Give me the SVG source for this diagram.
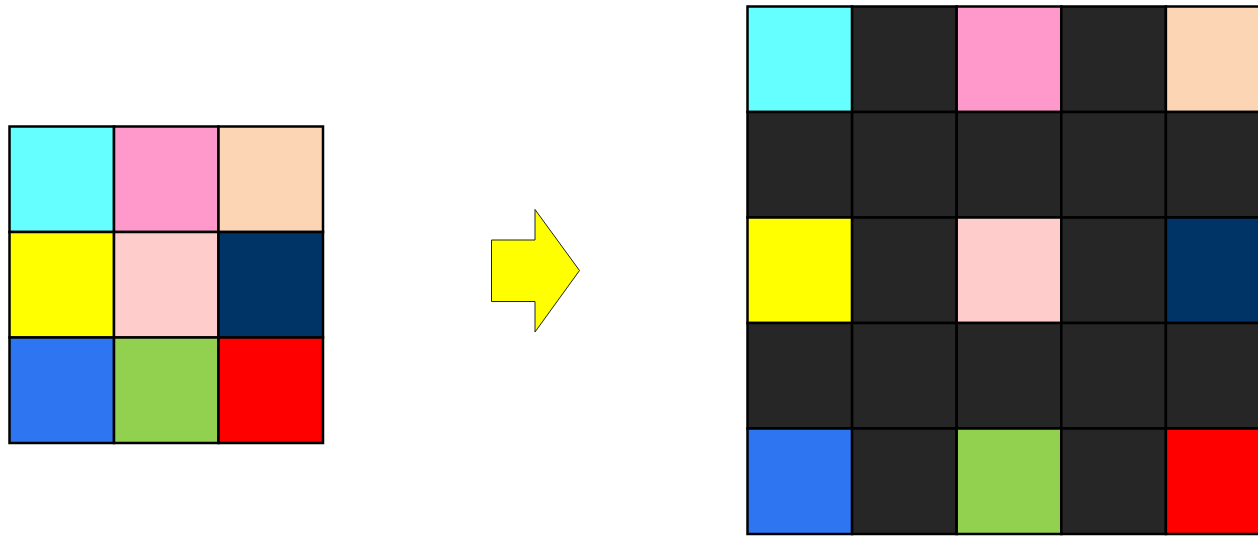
<svg xmlns="http://www.w3.org/2000/svg" width="1258" height="536" viewBox="0 0 1258 536">
<style>
.c{stroke:#000;stroke-width:2.5}
.k{fill:#262626}
.cy{fill:#66FFFF}.pk{fill:#FF99CC}.pe{fill:#FCD5B5}
.ye{fill:#FFFF00}.lp{fill:#FFCCCC}.nv{fill:#003366}
.bl{fill:#2E75F2}.gr{fill:#92D050}.rd{fill:#FF0000}
</style>
<rect width="1258" height="536" fill="#fff"/>
<g id="input-grid">
<rect class="c cy" x="9.5" y="126.5" width="104.5" height="105.5"/>
<rect class="c pk" x="114" y="126.5" width="104.5" height="105.5"/>
<rect class="c pe" x="218.5" y="126.5" width="104.5" height="105.5"/>
<rect class="c ye" x="9.5" y="232" width="104.5" height="105.5"/>
<rect class="c lp" x="114" y="232" width="104.5" height="105.5"/>
<rect class="c nv" x="218.5" y="232" width="104.5" height="105.5"/>
<rect class="c bl" x="9.5" y="337.5" width="104.5" height="105.5"/>
<rect class="c gr" x="114" y="337.5" width="104.5" height="105.5"/>
<rect class="c rd" x="218.5" y="337.5" width="104.5" height="105.5"/>
</g>
<g id="arrow">
<polygon points="491.5,240 535,240 535,209.5 579.5,270.5 535,332 535,301.5 491.5,301.5" fill="#FFFF00" stroke="#222" stroke-width="1"/>
</g>
<g id="output-grid">
<rect class="c cy" x="747.5" y="6.5" width="104.6" height="105.5"/>
<rect class="c k" x="852.1" y="6.5" width="104.6" height="105.5"/>
<rect class="c pk" x="956.7" y="6.5" width="104.6" height="105.5"/>
<rect class="c k" x="1061.3" y="6.5" width="104.6" height="105.5"/>
<rect class="c pe" x="1165.9" y="6.5" width="104.6" height="105.5"/>

<rect class="c k" x="747.5" y="112" width="104.6" height="105.5"/>
<rect class="c k" x="852.1" y="112" width="104.6" height="105.5"/>
<rect class="c k" x="956.7" y="112" width="104.6" height="105.5"/>
<rect class="c k" x="1061.3" y="112" width="104.6" height="105.5"/>
<rect class="c k" x="1165.9" y="112" width="104.6" height="105.5"/>

<rect class="c ye" x="747.5" y="217.5" width="104.6" height="105.5"/>
<rect class="c k" x="852.1" y="217.5" width="104.6" height="105.5"/>
<rect class="c lp" x="956.7" y="217.5" width="104.6" height="105.5"/>
<rect class="c k" x="1061.3" y="217.5" width="104.6" height="105.5"/>
<rect class="c nv" x="1165.9" y="217.5" width="104.6" height="105.5"/>

<rect class="c k" x="747.5" y="323" width="104.6" height="105.5"/>
<rect class="c k" x="852.1" y="323" width="104.6" height="105.5"/>
<rect class="c k" x="956.7" y="323" width="104.6" height="105.5"/>
<rect class="c k" x="1061.3" y="323" width="104.6" height="105.5"/>
<rect class="c k" x="1165.9" y="323" width="104.6" height="105.5"/>

<rect class="c bl" x="747.5" y="428.5" width="104.6" height="105.5"/>
<rect class="c k" x="852.1" y="428.5" width="104.6" height="105.5"/>
<rect class="c gr" x="956.7" y="428.5" width="104.6" height="105.5"/>
<rect class="c k" x="1061.3" y="428.5" width="104.6" height="105.5"/>
<rect class="c rd" x="1165.9" y="428.5" width="104.6" height="105.5"/>
</g>
</svg>
